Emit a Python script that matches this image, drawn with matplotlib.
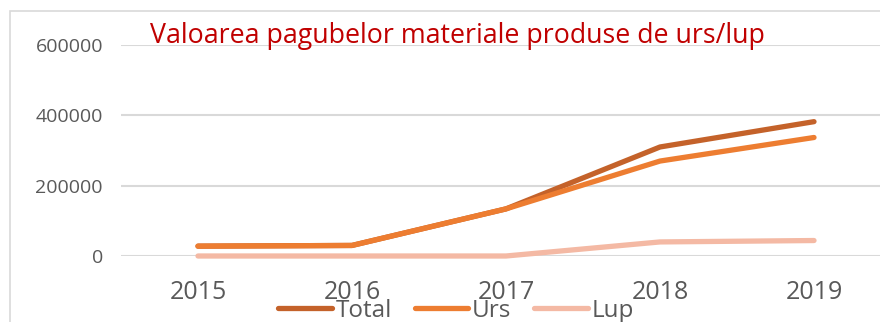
import matplotlib
matplotlib.use("Agg")
import matplotlib.pyplot as plt
from matplotlib.patches import Rectangle

plt.rcParams['font.family'] = ['Open Sans', 'DejaVu Sans']

years = ["2015", "2016", "2017", "2018", "2019"]
total = [28000, 30000, 134000, 310000, 382000]
urs = [28000, 30000, 134000, 270000, 337000]
lup = [0, 0, 0, 40000, 44000]
yticks = [0, 200000, 400000, 600000]
title = "Valoarea pagubelor materiale produse de urs/lup"

c_total = "#C4622A"
c_urs = "#ED7D31"
c_lup = "#F4B9A4"
c_text = "#595959"
c_grid = "#D9D9D9"

W, H = 880, 322
fig = plt.figure(figsize=(W / 100, H / 100), dpi=100)

# chart area border (runs off the right and bottom edges)
fig.patches.append(Rectangle((10 / W, -0.1), 1.2, 1 - 11 / H + 0.1,
                             transform=fig.transFigure, fill=False,
                             edgecolor=c_grid, linewidth=1.2))

ax = fig.add_axes([121 / W, (H - 256) / H, 770 / W, 211 / H])
x = list(range(len(years)))
ax.set_xlim(-0.5, len(years) - 0.5)
ax.set_ylim(0, 600000)

for v in yticks:
    ax.axhline(v, color=c_grid, linewidth=1.5, zorder=1)

lw = 3.8
ax.plot(x, lup, color=c_lup, linewidth=lw, solid_capstyle="round", label="Lup", zorder=3, clip_on=False)
ax.plot(x, total, color=c_total, linewidth=lw, solid_capstyle="round", label="Total", zorder=4, clip_on=False)
ax.plot(x, urs, color=c_urs, linewidth=lw, solid_capstyle="round", label="Urs", zorder=5, clip_on=False)

ax.set_yticks(yticks)
ax.set_yticklabels([str(v) for v in yticks], fontsize=14, color=c_text)
ax.set_xticks(x)
ax.set_xticklabels(years, fontsize=18, color=c_text)
ax.tick_params(axis="y", length=0, pad=13)
ax.tick_params(axis="x", length=0, pad=17)
for s in ax.spines.values():
    s.set_visible(False)

fig.text(150 / W, 1 - 43 / H, title, fontsize=19.3, color="#C00000",
         ha="left", va="baseline")

h = {l.get_label(): l for l in ax.get_lines()}
fig.legend([h["Total"], h["Urs"], h["Lup"]], ["Total", "Urs", "Lup"],
           loc="center", bbox_to_anchor=(456 / W, (H - 311) / H), ncol=3,
           frameon=False, fontsize=17.5, labelcolor=c_text,
           handlelength=2.2, handletextpad=0.15, columnspacing=0.95,
           borderpad=0, borderaxespad=0)

fig.savefig("out.png", dpi=100)
